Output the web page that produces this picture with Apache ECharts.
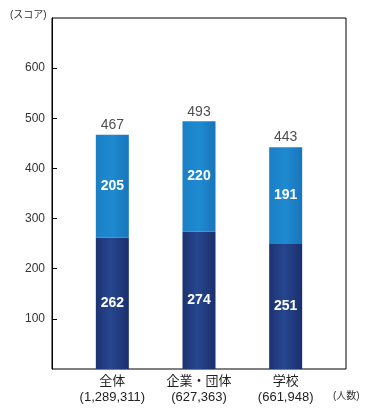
<!DOCTYPE html>
<html><head><meta charset="utf-8">
<script src="https://cdn.jsdelivr.net/npm/echarts@6/dist/echarts.min.js"></script>
<style>html,body{margin:0;padding:0;background:#fff}#c{width:381px;height:411px}</style>
</head><body><div id="c"></div>
<script>
const categories = ['全体', '企業・団体', '学校'];
const counts = ['(1,289,311)', '(627,363)', '(661,948)'];
const lowerValues = [262, 274, 251];
const upperValues = [205, 220, 191];
const totals = [467, 493, 443];
const yTicks = [100, 200, 300, 400, 500, 600];

const font = '"Liberation Sans", "Noto Sans CJK JP", sans-serif';
const chart = echarts.init(document.getElementById('c'), null, {renderer: 'canvas'});
const darkGrad = new echarts.graphic.LinearGradient(0, 0, 1, 0, [
  {offset: 0, color: '#1c3272'}, {offset: 0.45, color: '#27468f'}, {offset: 1, color: '#1a2f6c'}]);
const lightGrad = new echarts.graphic.LinearGradient(0, 0, 1, 0, [
  {offset: 0, color: '#1a80c6'}, {offset: 0.5, color: '#1f8ad0'}, {offset: 1, color: '#1875bb'}]);

chart.setOption({
  animation: false,
  textStyle: {fontFamily: font},
  graphic: [
    {type: 'text', left: 10, top: 10, style: {text: '(スコア)', fontSize: 10, fill: '#333', fontFamily: font}},
    {type: 'text', left: 333, top: 391, style: {text: '(人数)', fontSize: 10, fill: '#333', fontFamily: font}}
  ],
  grid: [
    {left: 52, right: 35, top: 18, bottom: 42, show: true, borderColor: '#000', borderWidth: 1, backgroundColor: 'transparent'},
    {left: 69, right: 52, top: 18, bottom: 42}
  ],
  xAxis: [
    {gridIndex: 0, type: 'value', show: false, min: 0, max: 1},
    {gridIndex: 1, type: 'category', data: categories,
     axisLine: {show: false}, axisTick: {show: false},
     axisLabel: {interval: 0, margin: 4, fontSize: 13, lineHeight: 16, color: '#222', fontFamily: font,
       formatter: (v, i) => v + '\n' + counts[i]}}
  ],
  yAxis: [
    {gridIndex: 0, type: 'value', min: 0, max: 700, interval: 100,
     splitLine: {show: false},
     axisLine: {show: true, lineStyle: {color: '#000'}},
     axisTick: {show: true, inside: true, length: 5, customValues: yTicks, lineStyle: {color: '#000'}},
     axisLabel: {fontSize: 12, color: '#333', margin: 7, customValues: yTicks, fontFamily: font}},
    {gridIndex: 1, type: 'value', min: 0, max: 700, show: false}
  ],
  series: [
    {type: 'bar', xAxisIndex: 1, yAxisIndex: 1, stack: 's', data: lowerValues, barWidth: 33,
     itemStyle: {color: darkGrad},
     label: {show: true, position: 'inside', color: '#fff', fontSize: 14, fontWeight: 'bold', fontFamily: font}},
    {type: 'bar', xAxisIndex: 1, yAxisIndex: 1, stack: 's', data: upperValues, barWidth: 33,
     itemStyle: {color: lightGrad},
     label: {show: true, position: 'inside', color: '#fff', fontSize: 14, fontWeight: 'bold', fontFamily: font}},
    {type: 'scatter', xAxisIndex: 1, yAxisIndex: 1, data: totals, symbolSize: 0, silent: true,
     label: {show: true, position: 'top', distance: 3, color: '#222', fontSize: 14, fontFamily: font}}
  ]
});
</script></body></html>
